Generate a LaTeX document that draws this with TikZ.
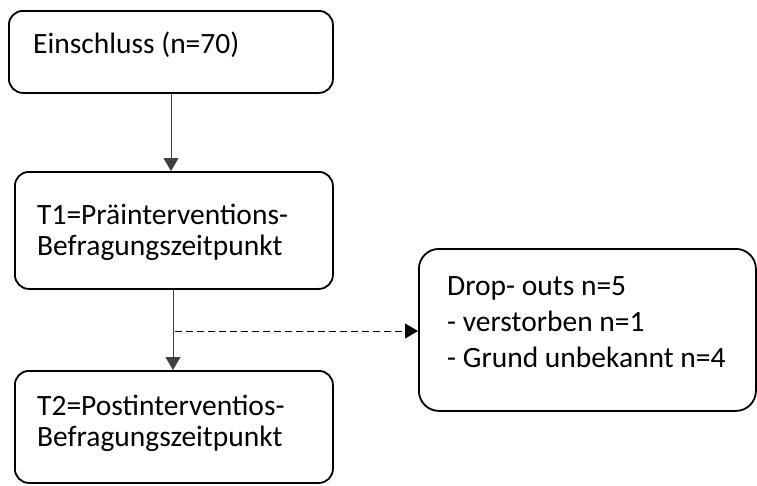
\documentclass[tikz,border=0pt]{standalone}
\usepackage{fontspec}
\setmainfont{Carlito}
\usetikzlibrary{arrows.meta}
\begin{document}
\begin{tikzpicture}[x=1pt,y=-1pt,
  box/.style={draw=black,line width=1.8pt,rounded corners=14pt,inner sep=0pt},
  txt/.style={anchor=base west,inner sep=0pt,font=\fontsize{29.5}{31}\selectfont},
  conn/.style={draw=black!75,line width=1pt,-{Triangle[width=15pt,length=13pt]}},
  dconn/.style={draw=black,line width=1pt,dash pattern=on 7pt off 4pt,-{Triangle[width=15pt,length=13pt]}}]
\useasboundingbox (0,0) rectangle (757,485);
% boxes
\node[box,minimum width=324pt,minimum height=82pt,anchor=north west] (b1) at (8,10) {};
\node[box,minimum width=318pt,minimum height=117pt,anchor=north west] (b2) at (14,171) {};
\node[box,minimum width=318pt,minimum height=112pt,anchor=north west] (b3) at (14,370) {};
\node[box,rounded corners=20pt,minimum width=337pt,minimum height=162pt,anchor=north west] (b4) at (418,248) {};
% texts
\node[txt] (t1) at (33,53) {Einschluss (n=70)};
\node[txt] (t2a) at (37,224) {T1=Präinterventions-};
\node[txt] (t2b) at (37,255) {Befragungszeitpunkt};
\node[txt] (t3a) at (37,415) {T2=Postinterventios-};
\node[txt] (t3b) at (37,446) {Befragungszeitpunkt};
\node[txt] (t4a) at (447,295) {Drop- outs n=5};
\node[txt] (t4b) at (447,331) {- verstorben n=1};
\node[txt] (t4c) at (447,367) {- Grund unbekannt n=4};
% connectors
\draw[conn] (b1.south -| 171,0) -- (171,0 |- b2.north);
\draw[conn] (b2.south -| 173,0) -- (173,0 |- b3.north);
\coordinate (d0) at (175,331);
\draw[dconn] (d0) -- (d0 -| b4.west);
\end{tikzpicture}
\end{document}
